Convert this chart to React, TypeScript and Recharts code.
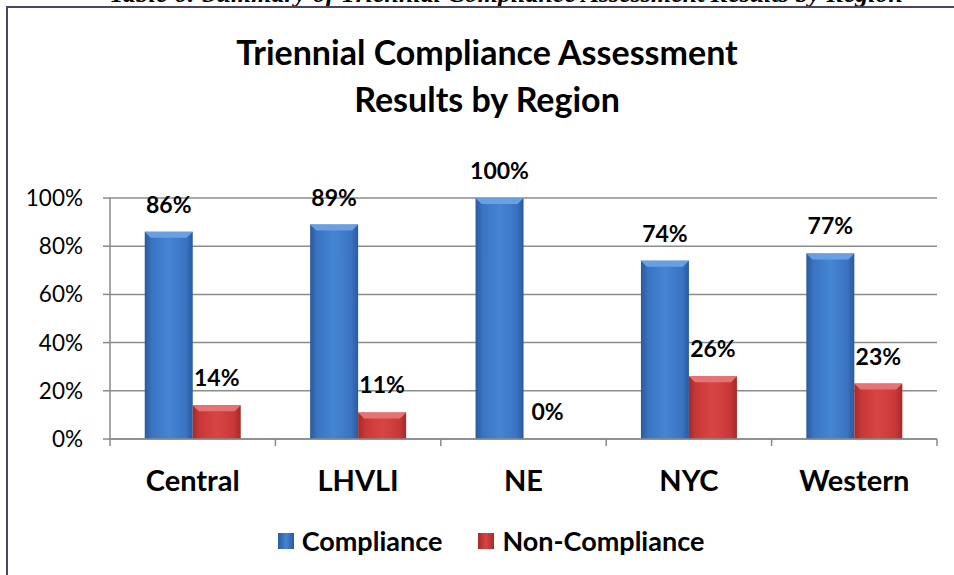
import { Bar, BarChart, CartesianGrid, LabelList, XAxis, YAxis } from "recharts";

const regions = ["Central", "LHVLI", "NE", "NYC", "Western"];
const compliance = [0.86, 0.89, 1.0, 0.74, 0.77];
const nonCompliance = [0.14, 0.11, 0, 0.26, 0.23];
const yTicks = [0, 0.2, 0.4, 0.6, 0.8, 1];

const FONT = "Lato, 'Open Sans', sans-serif";

const data = regions.map((region, i) => ({
  region,
  compliance: compliance[i],
  nonCompliance: nonCompliance[i],
}));

const pct = (v: number) => `${Math.round(v * 100)}%`;

function BevelBar(props: any) {
  const { x, y, width, height, gradId, topFill } = props;
  if (!height || height <= 0) return null;
  const b = Math.min(6, height / 2);
  return (
    <g>
      <rect x={x} y={y} width={width} height={height} fill={`url(#${gradId})`} />
      <polygon
        points={`${x},${y} ${x + width},${y} ${x + width - b},${y + b} ${x + b},${y + b}`}
        fill={topFill}
      />
    </g>
  );
}

function RegionTick(props: any) {
  const { x, y, payload, index } = props;
  const half = payload?.offset || 82.7;
  return (
    <g>
      <line x1={x - half} y1={y - 8} x2={x - half} y2={y - 1} stroke="#8a8a8a" strokeWidth={1.5} />
      {index === regions.length - 1 && (
        <line x1={x + half} y1={y - 8} x2={x + half} y2={y - 1} stroke="#8a8a8a" strokeWidth={1.5} />
      )}
      <text
        x={x}
        y={y + 44}
        textAnchor="middle"
        fontFamily={FONT}
        fontWeight={700}
        fontSize={29}
        fill="#000"
      >
        {payload.value}
      </text>
    </g>
  );
}

const labelStyle = { fontFamily: FONT, fontWeight: 700, fontSize: 23, fill: "#000" };

export default function App() {
  return (
    <div
      style={{
        position: "fixed",
        left: 0,
        top: 0,
        width: 954,
        height: 575,
        background: "#fff",
        overflow: "hidden",
        fontFamily: FONT,
      }}
    >
      <svg width={954} height={20} style={{ position: "absolute", left: 0, top: 0 }}>
        <text
          x={903}
          y={2}
          textAnchor="end"
          fontFamily="'Liberation Serif', serif"
          fontStyle="italic"
          fontWeight={700}
          fontSize={26}
          fill="#000"
        >
          Table 6: Summary of Triennial Compliance Assessment Results by Region
        </text>
      </svg>
      <div
        style={{
          position: "absolute",
          left: 6,
          top: 6,
          width: 1000,
          height: 700,
          borderLeft: "2px solid #4b4463",
          borderTop: "2px solid #4b4463",
        }}
      />
      <div
        style={{
          position: "absolute",
          left: 0,
          width: 974,
          top: 28,
          textAlign: "center",
          fontWeight: 700,
          fontSize: 34,
          lineHeight: "47px",
          color: "#000",
        }}
      >
        Triennial Compliance Assessment
        <br />
        Results by Region
      </div>
      <div style={{ position: "absolute", left: 0, top: 0 }}>
        <BarChart
          width={954}
          height={575}
          data={data}
          margin={{ top: 198, right: 17, bottom: 106, left: 0 }}
          barCategoryGap="21%"
          barGap={0}
        >
          <defs>
            <linearGradient id="blueGrad" x1="0" y1="0" x2="1" y2="0">
              <stop offset="0%" stopColor="#2a5a9e" />
              <stop offset="15%" stopColor="#3a74c2" />
              <stop offset="50%" stopColor="#4585d3" />
              <stop offset="85%" stopColor="#3a74c2" />
              <stop offset="100%" stopColor="#2a5a9e" />
            </linearGradient>
            <linearGradient id="redGrad" x1="0" y1="0" x2="1" y2="0">
              <stop offset="0%" stopColor="#a42a2a" />
              <stop offset="15%" stopColor="#c93838" />
              <stop offset="50%" stopColor="#d84545" />
              <stop offset="85%" stopColor="#c93838" />
              <stop offset="100%" stopColor="#a42a2a" />
            </linearGradient>
          </defs>
          <CartesianGrid vertical={false} stroke="#8c8c8c" strokeWidth={1.5} />
          <XAxis
            dataKey="region"
            height={30}
            stroke="#8a8a8a"
            strokeWidth={1.5}
            tickLine={false}
            tick={<RegionTick />}
            interval={0}
          />
          <YAxis
            width={110}
            domain={[0, 1]}
            ticks={yTicks}
            tickFormatter={pct}
            stroke="#8a8a8a"
            strokeWidth={1.5}
            tickSize={7}
            tickMargin={20}
            tick={{ fill: "#000", fontSize: 22.5, fontFamily: FONT }}
          />
          <Bar
            dataKey="compliance"
            isAnimationActive={false}
            fill="#3a74c2"
            shape={(p: any) => <BevelBar {...p} gradId="blueGrad" topFill="#6a9fe2" />}
          >
            <LabelList
              dataKey="compliance"
              position="top"
              offset={19}
              formatter={(v: any) => pct(Number(v))}
              style={labelStyle}
            />
          </Bar>
          <Bar
            dataKey="nonCompliance"
            isAnimationActive={false}
            fill="#c93838"
            shape={(p: any) => <BevelBar {...p} gradId="redGrad" topFill="#e67373" />}
          >
            <LabelList
              dataKey="nonCompliance"
              position="top"
              offset={19}
              formatter={(v: any) => pct(Number(v))}
              style={labelStyle}
            />
          </Bar>
        </BarChart>
      </div>
      <div
        style={{
          position: "absolute",
          left: 0,
          width: 982,
          top: 524,
          display: "flex",
          justifyContent: "center",
          alignItems: "center",
          fontWeight: 700,
          fontSize: 27,
          color: "#000",
          gap: 36,
        }}
      >
        <span style={{ display: "flex", alignItems: "center", gap: 8 }}>
          <span style={{ width: 16, height: 16, background: "linear-gradient(90deg,#2a5a9e,#4585d3,#2a5a9e)" }} />
          Compliance
        </span>
        <span style={{ display: "flex", alignItems: "center", gap: 8 }}>
          <span style={{ width: 16, height: 16, background: "linear-gradient(90deg,#a42a2a,#d84545,#a42a2a)" }} />
          Non-Compliance
        </span>
      </div>
    </div>
  );
}
